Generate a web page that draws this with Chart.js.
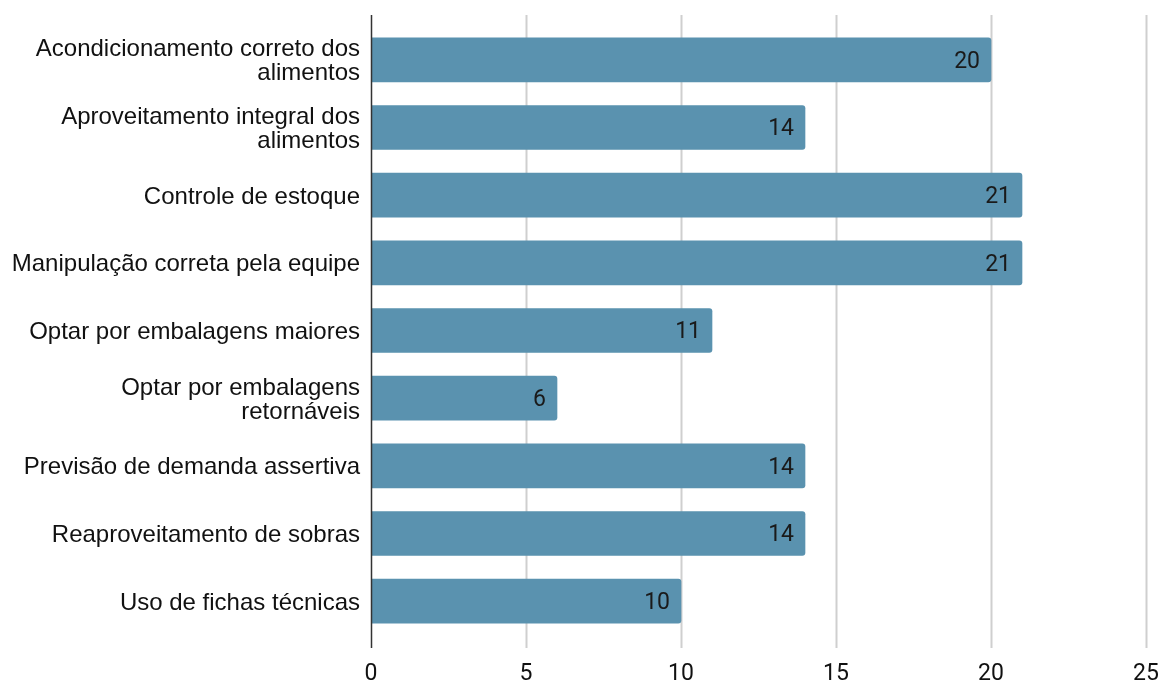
<!DOCTYPE html>
<html>
<head>
<meta charset="utf-8">
<script src="https://cdn.jsdelivr.net/npm/chart.js@4"></script>
<style>
  html, body { margin: 0; padding: 0; background: #fff; }
  #wrap { width: 1159px; height: 681px; }
</style>
</head>
<body>
<div id="wrap"><canvas id="grafico" width="1159" height="681"></canvas></div>
<script>
const categorias = [
  ['Acondicionamento correto dos', 'alimentos'],
  ['Aproveitamento integral dos', 'alimentos'],
  'Controle de estoque',
  'Manipulação correta pela equipe',
  'Optar por embalagens maiores',
  ['Optar por embalagens', 'retornáveis'],
  'Previsão de demanda assertiva',
  'Reaproveitamento de sobras',
  'Uso de fichas técnicas'
];
const valores = [20, 14, 21, 21, 11, 6, 14, 14, 10];
const ticksX = [0, 5, 10, 15, 20, 25];

// grade vertical e linha do eixo, um pouco além da área do gráfico
const gradePlugin = {
  id: 'grade',
  beforeDatasetsDraw(chart) {
    const ctx = chart.ctx;
    const area = chart.chartArea;
    const x = chart.scales.x;
    ctx.save();
    ticksX.forEach((v) => {
      if (v === 0) return;
      const px = Math.round(x.getPixelForValue(v)) + 0.5;
      ctx.strokeStyle = '#cfcfcf';
      ctx.lineWidth = 2;
      ctx.beginPath();
      ctx.moveTo(px, area.top - 11);
      ctx.lineTo(px, area.bottom + 13);
      ctx.stroke();
    });
    ctx.restore();
  },
  afterDatasetsDraw(chart) {
    const ctx = chart.ctx;
    const area = chart.chartArea;
    const x = chart.scales.x;
    const px = Math.round(x.getPixelForValue(0)) + 0.5;
    ctx.save();
    ctx.strokeStyle = '#333';
    ctx.lineWidth = 1.5;
    ctx.beginPath();
    ctx.moveTo(px, area.top - 11);
    ctx.lineTo(px, area.bottom + 13);
    ctx.stroke();

    // rótulos de valor dentro da barra
    ctx.fillStyle = '#1a1a1a';
    ctx.font = '23px Roboto';
    ctx.textAlign = 'right';
    ctx.textBaseline = 'middle';
    chart.getDatasetMeta(0).data.forEach((bar, i) => {
      ctx.fillText(String(valores[i]), bar.x - 11, bar.y + 2);
    });
    ctx.restore();
  }
};

new Chart(document.getElementById('grafico').getContext('2d'), {
  type: 'bar',
  data: {
    labels: categorias,
    datasets: [{
      data: valores,
      backgroundColor: '#5a92af',
      borderRadius: 3,
      borderSkipped: 'start',
      barThickness: 44
    }]
  },
  plugins: [gradePlugin],
  options: {
    indexAxis: 'y',
    responsive: false,
    animation: false,
    layout: { padding: { top: 26, right: 13, left: 0, bottom: 0 } },
    plugins: {
      legend: { display: false },
      tooltip: { enabled: false }
    },
    scales: {
      x: {
        min: 0,
        max: 25,
        afterBuildTicks(scale) {
          scale.ticks = ticksX.map((v) => ({ value: v }));
        },
        afterFit(scale) {
          scale.height = 46;
          scale.paddingLeft = 0;
          scale.paddingRight = 0;
        },
        grid: { display: false },
        border: { display: false },
        ticks: {
          color: '#111',
          font: { family: 'Roboto', size: 23 },
          padding: 17
        }
      },
      y: {
        afterFit(scale) {
          scale.width = 371;
          scale.paddingTop = 0;
          scale.paddingBottom = 0;
        },
        grid: { display: false },
        border: { display: false },
        ticks: {
          color: '#111',
          font: { family: 'Liberation Sans', size: 24, lineHeight: '24px' },
          padding: 3,
          labelOffset: 2
        }
      }
    }
  }
});
</script>
</body>
</html>
